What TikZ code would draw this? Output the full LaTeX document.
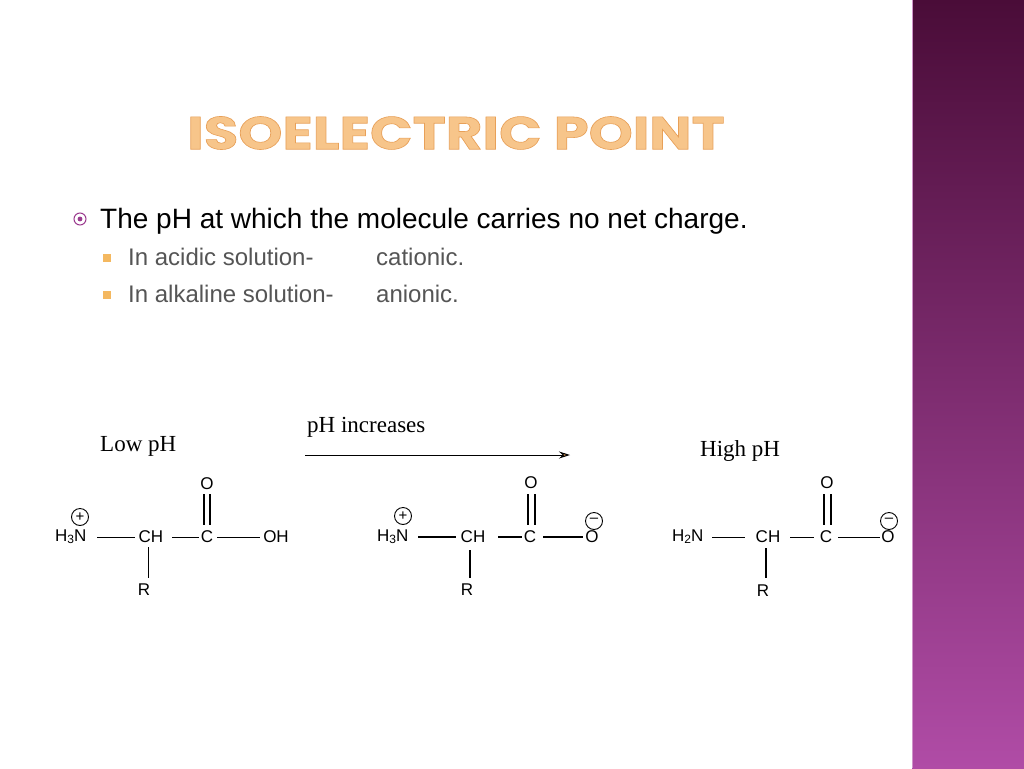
\documentclass[tikz,border=0pt]{standalone}
\usepackage{fontspec}
\usetikzlibrary{arrows.meta}
\setmainfont{Liberation Sans}
\newfontfamily\titlefont{Poppins}
\newfontfamily\serifchem{Liberation Serif}
\definecolor{ttl}{HTML}{F7C58A}
\definecolor{ttlline}{HTML}{E8A058}
\definecolor{barTop}{HTML}{4A0C38}
\definecolor{barBot}{HTML}{B04CA6}
\definecolor{bul}{HTML}{9B3A8E}
\definecolor{sq}{HTML}{F4B860}
\definecolor{subtxt}{HTML}{555555}
\begin{document}
\begin{tikzpicture}[x=1pt,y=-1pt,
  chem/.style={inner sep=0pt,font=\fontsize{17}{17}\selectfont},
  bond/.style={line width=0.9pt},
  tbond/.style={line width=2pt},
  chg/.style={circle,draw,inner sep=0pt,minimum size=17pt,font=\fontsize{15}{15}\selectfont,line width=0.9pt}]
\useasboundingbox (0,0) rectangle (1024,768);
\fill[white] (0,0) rectangle (1024,768);
\shade[top color=barTop,bottom color=barBot] (912,0) rectangle (1024,768);
\draw[barBot!60!white,line width=1pt] (912.5,0) -- (912.5,768);
% title
\node[anchor=center,inner sep=0pt,text=ttl,font=\titlefont\bfseries\fontsize{46}{46}\selectfont,xscale=1.22] (title) at (456,133) {\pgfsetstrokecolor{ttlline}\pgfsetlinewidth{0.6pt}\special{pdf:literal direct 2 Tr}ISOELECTRIC POINT\special{pdf:literal direct 0 Tr}};
% bullets
\node[circle,draw=bul,line width=1pt,minimum size=12pt,inner sep=0pt] (b1) at (80,219) {};
\fill[bul] (b1) circle (2.4pt);
\node[anchor=base west,inner sep=0pt,font=\fontsize{28}{28}\selectfont] (t1) at (100,228) {The pH at which the molecule carries no net charge.};
\fill[sq] (103,254) rectangle (111,262);
\fill[sq] (103,291) rectangle (111,299);
\node[anchor=base west,inner sep=0pt,text=subtxt,font=\fontsize{24}{24}\selectfont] (t2) at (128,265) {In acidic solution-};
\node[anchor=base west,inner sep=0pt,text=subtxt,font=\fontsize{24}{24}\selectfont] (t3) at (376,265) {cationic.};
\node[anchor=base west,inner sep=0pt,text=subtxt,font=\fontsize{24}{24}\selectfont] (t4) at (128,302) {In alkaline solution-};
\node[anchor=base west,inner sep=0pt,text=subtxt,font=\fontsize{24}{24}\selectfont] (t5) at (376,302) {anionic.};
% headings
\node[anchor=west,inner sep=0pt,font=\serifchem\fontsize{23}{23}\selectfont] (low) at (100,446) {Low pH};
\node[anchor=west,inner sep=0pt,font=\serifchem\fontsize{23}{23}\selectfont] (inc) at (307,427) {pH increases};
\node[anchor=west,inner sep=0pt,font=\serifchem\fontsize{23}{23}\selectfont] (high) at (700,451) {High pH};
\coordinate (a1) at (305,455); \coordinate (a2) at (570,455);
\draw[line width=1pt,-{Stealth[length=11pt,width=7pt]}] (a1) -- (a2);
% molecule 1
\node[chem,anchor=west] (n1) at (55,537) {H\raisebox{-2pt}{\fontsize{12}{12}\selectfont 3}N};
\node[chg] (p1) at (80,517) {+};
\node[chem] (ch1) at (151,537) {CH};
\node[chem] (c1) at (207,537) {C};
\node[chem] (oh1) at (276,537) {OH};
\node[chem] (o1) at (207,484) {O};
\node[chem] (r1) at (144,590) {R};
\draw[bond] (97,537) -- (135,537);
\draw[bond] (172,537) -- (199,537);
\draw[bond] (217,537) -- (260,537);
\draw[line width=1.5pt] (204,494) -- (204,525) (210,494) -- (210,525);
\draw[bond] (148,547) -- (148,578);
% molecule 2
\node[chem,anchor=west] (n2) at (377,537) {H\raisebox{-2pt}{\fontsize{12}{12}\selectfont 3}N};
\node[chg] (p2) at (403,516) {+};
\node[chem] (ch2) at (473,537) {CH};
\node[chem] (c2) at (530,537) {C};
\node[chem] (ob2) at (592,537) {O};
\node[chg] (m2) at (594,521) {\raisebox{1pt}{--}};
\node[chem] (o2) at (531,483) {O};
\node[chem] (r2) at (467,590) {R};
\draw[tbond] (418,537) -- (456,537);
\draw[tbond] (498,537) -- (522,537);
\draw[tbond] (543,537) -- (583,537);
\draw[line width=1.8pt] (528,494) -- (528,525) (535,494) -- (535,525);
\draw[tbond] (470,550) -- (470,578);
% molecule 3
\node[chem,anchor=west] (n3) at (672,537) {H\raisebox{-2pt}{\fontsize{12}{12}\selectfont 2}N};
\node[chem] (ch3) at (768,537) {CH};
\node[chem] (c3) at (826,537) {C};
\node[chem] (ob3) at (888,537) {O};
\node[chg] (m3) at (889,521) {\raisebox{1pt}{--}};
\node[chem] (o3) at (827,483) {O};
\node[chem] (r3) at (763,591) {R};
\draw[bond] (712,537) -- (745,537);
\draw[bond] (790,537) -- (814,537);
\draw[bond] (838,537) -- (880,537);
\draw[line width=1.8pt] (824,494) -- (824,525) (831,494) -- (831,525);
\draw[tbond] (766,548) -- (766,578);
\end{tikzpicture}
\end{document}
